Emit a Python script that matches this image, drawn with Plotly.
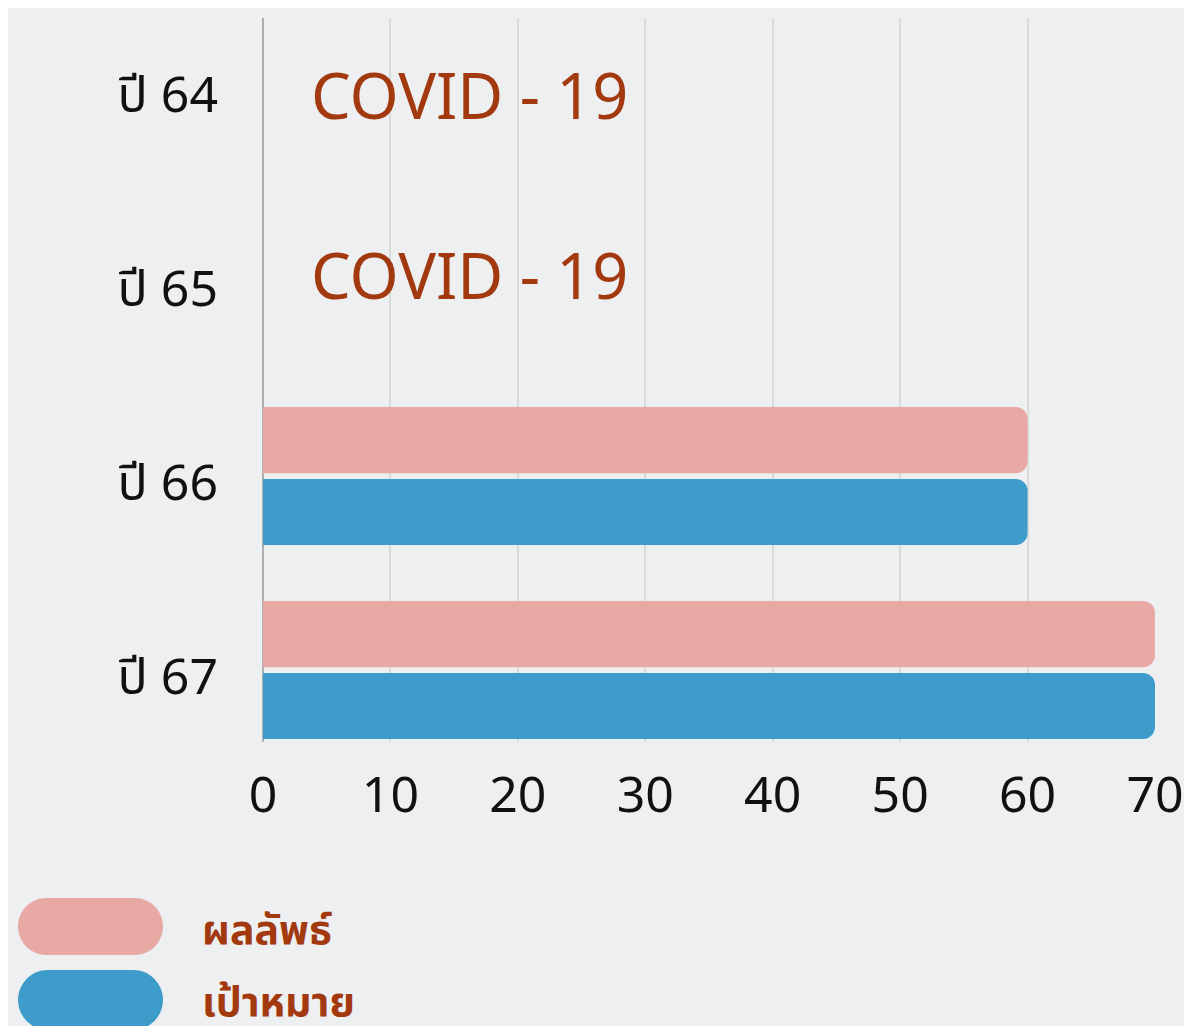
import plotly.graph_objects as go

categories = ["ปี 64", "ปี 65", "ปี 66", "ปี 67"]
result_values = [None, None, 60, 70]
target_values = [None, None, 60, 70]
series_names = ["ผลลัพธ์", "เป้าหมาย"]
covid_years = ["ปี 64", "ปี 65"]
covid_label = "COVID - 19"
x_ticks = [0, 10, 20, 30, 40, 50, 60, 70]

PINK = "#E8A8A4"
BLUE = "#3D9CC9"
BROWN = "#A3390F"
BG = "#EEEFF1"
FONT = "Noto Sans, Noto Sans Thai, Lato, sans-serif"

# page body has an 8px margin; compensate so the picture lines up
OFF = 8
W, H = 1192, 1026
L, T = 263 - OFF, 18 - OFF
R = W - (1155 - OFF)
B = H - (742 - OFF)
PW, PH = W - L - R, H - T - B

fig = go.Figure()
fig.add_trace(go.Bar(y=categories, x=result_values, name=series_names[0], orientation="h",
                     marker=dict(color=PINK, line=dict(width=0))))
fig.add_trace(go.Bar(y=categories, x=target_values, name=series_names[1], orientation="h",
                     marker=dict(color=BLUE, line=dict(width=0))))

for yr, ys in zip(covid_years, [-6, 8]):
    fig.add_annotation(x=3.6, y=yr, xref="x", yref="y", text=covid_label, showarrow=False,
                       xanchor="left", yanchor="middle", yshift=ys,
                       font=dict(family=FONT, size=63, color=BROWN))


def px_x(p):
    return (p - OFF - L) / PW


def px_y(p):
    return (H - B - (p - OFF)) / PH


def pill(x0, y0, x1, y1):
    r = (y1 - y0) / 2
    k = 0.5523 * r
    pts = [
        ("M", [(x0 + r, y0)]),
        ("L", [(x1 - r, y0)]),
        ("C", [(x1 - r + k, y0), (x1, y0 + r - k), (x1, y0 + r)]),
        ("C", [(x1, y0 + r + k), (x1 - r + k, y1), (x1 - r, y1)]),
        ("L", [(x0 + r, y1)]),
        ("C", [(x0 + r - k, y1), (x0, y0 + r + k), (x0, y0 + r)]),
        ("C", [(x0, y0 + r - k), (x0 + r - k, y0), (x0 + r, y0)]),
    ]
    s = ""
    for cmd, ps in pts:
        s += cmd + " " + " ".join(f"{px_x(a):.5f},{px_y(b):.5f}" for a, b in ps) + " "
    return s + "Z"


legend_items = [(series_names[0], PINK, 898, 955, 928), (series_names[1], BLUE, 970, 1030, 1000)]
for name, col, ya, yb, ty in legend_items:
    fig.add_shape(type="path", path=pill(18, ya, 163, yb), xref="paper", yref="paper",
                  fillcolor=col, line=dict(width=0), layer="above")
    fig.add_annotation(x=px_x(200), y=px_y(ty), xref="paper", yref="paper",
                       text=name, showarrow=False, xanchor="left", yanchor="middle",
                       font=dict(family=FONT, size=41, color=BROWN, weight="bold"))

fig.update_layout(
    width=W, height=H,
    margin=dict(l=L, r=R, t=T, b=B),
    paper_bgcolor=BG, plot_bgcolor=BG,
    barmode="group", bargap=0.258, bargroupgap=0.08,
    barcornerradius=12,
    showlegend=False,
    font=dict(family=FONT, color="#111111"),
    xaxis=dict(range=[0, 70], tickvals=x_ticks, showgrid=True, gridcolor="#D9DADC", gridwidth=1.5,
               zeroline=True, zerolinecolor="#AEAEAE", zerolinewidth=1.5, showline=False,
               ticks="outside", ticklen=0, ticklabelstandoff=9,
               tickfont=dict(family=FONT, size=50, color="#111111")),
    yaxis=dict(type="category", categoryorder="array", categoryarray=categories,
               range=[3.371, -0.361], showgrid=False, zeroline=False, showline=False,
               ticks="outside", ticklen=0, ticklabelstandoff=34, ticklabelshift=-6,
               tickfont=dict(family=FONT, size=50, color="#111111")),
)

fig.write_html("out.html")
